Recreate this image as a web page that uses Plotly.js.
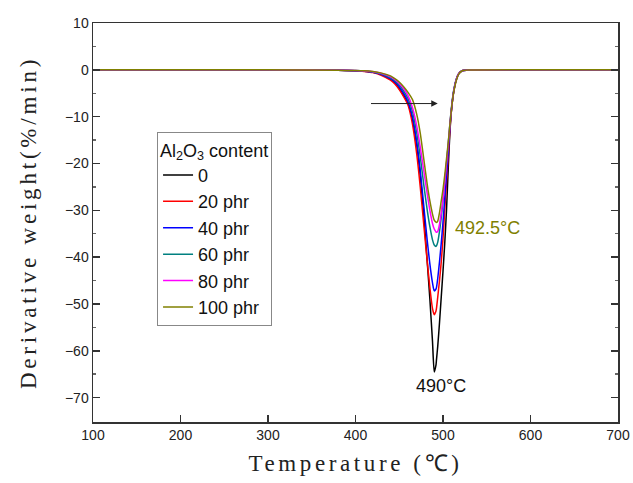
<!DOCTYPE html>
<html>
<head>
<meta charset="utf-8">
<script src="https://cdn.plot.ly/plotly-3.0.1.min.js"></script>
<style>
html,body{margin:0;padding:0;background:#fff;}
#chart{width:633px;height:483px;}
/* wide, typewriter-like spacing for the axis titles */
#chart .xtitle{letter-spacing:3.6px;}
#chart .ytitle{letter-spacing:3.8px;}
</style>
</head>
<body>
<div id="chart"></div>
<script>
// DTG curves of composites with different Al2O3 loadings
const temperature = [100,200,300,380,400,410,420,430,440,445,450,455,460,465,470,474,478,482,485,488,490,492,492.5,494,496,498,500,502,504,506,508,510,512,515,518,522,530,600,700];

const dtg0   = [0,0,0,-0.1,-0.2,-0.3,-0.5,-1.0,-2.0,-2.8,-4.0,-5.5,-7.2,-10.5,-16,-22.5,-31,-41,-49,-58,-64.5,-63,-62,-59,-54,-48.5,-43,-37,-30,-21,-13,-8,-5,-2.2,-0.8,-0.2,-0.05,0,0];
const dtg20  = [0,0,0,-0.1,-0.2,-0.35,-0.6,-1.2,-2.2,-3.0,-4.2,-5.7,-7.5,-11.5,-18,-25,-33,-41,-46.5,-51,-52.3,-51.5,-51,-48.5,-45,-41,-36,-30,-24,-18.5,-12.5,-8,-5,-2.2,-0.8,-0.2,-0.05,0,0];
const dtg40  = [0,0,0,-0.1,-0.2,-0.3,-0.5,-1.0,-1.9,-2.6,-3.6,-5.0,-6.8,-10,-15.5,-21.5,-29,-36.5,-41.5,-45.5,-47.2,-46.8,-46.5,-44.5,-41,-37,-32.5,-27.5,-22.5,-17.5,-12,-7.8,-4.8,-2.2,-0.8,-0.2,-0.05,0,0];
const dtg60  = [0,0,0,-0.1,-0.15,-0.25,-0.45,-0.9,-1.7,-2.3,-3.2,-4.5,-6.1,-8.8,-13.5,-18.5,-24.5,-30,-33.5,-36.3,-37.4,-37.7,-37.6,-36.8,-34.5,-31.5,-28,-24,-20,-15.8,-11.2,-7.5,-4.6,-2.1,-0.8,-0.2,-0.05,0,0];
const dtg80  = [0,0,0,-0.1,-0.15,-0.25,-0.4,-0.8,-1.5,-2.1,-2.9,-4.0,-5.5,-8,-12,-16.5,-21.5,-26.5,-30,-32.8,-34,-34.6,-34.7,-34.5,-33,-30.5,-27.5,-24,-20,-16,-11.5,-7.7,-4.8,-2.2,-0.8,-0.2,-0.05,0,0];
const dtg100 = [0,0,0,-0.1,-0.15,-0.2,-0.35,-0.7,-1.3,-1.9,-2.6,-3.6,-4.8,-6.3,-9.5,-13.5,-19,-24.5,-28,-30.8,-32.1,-32.55,-32.6,-32.3,-30.5,-28,-25.5,-22.5,-19,-15.5,-11.5,-7.8,-5,-2.4,-0.9,-0.2,-0.05,0,0];

const seriesNames  = ['0','20 phr','40 phr','60 phr','80 phr','100 phr'];
const seriesValues = [dtg0, dtg20, dtg40, dtg60, dtg80, dtg100];
const seriesColors = ['#000000','#ff0000','#0000ff','#008080','#ff00ff','#808000'];

// peak temperatures marked on the plot
const peakT0 = 490;
const peakT100 = 492.5;

// shift arrow endpoints (temperature, rate)
const arrowFrom = [416, -7.2];
const arrowTo   = [494, -7.2];

const traces = seriesValues.map((vals, i) => ({
  x: temperature,
  y: vals,
  type: 'scatter',
  mode: 'lines',
  name: seriesNames[i],
  line: {color: seriesColors[i], width: 1.5, shape: 'spline', smoothing: 0.6}
}));

const valAt = (vals, t) => vals[temperature.indexOf(t)];

const sans = 'Liberation Sans, Arial, sans-serif';
const tickFont = {family: sans, size: 14, color: '#222'};
const titleFont = {family: 'Liberation Serif, Times New Roman, serif', size: 23, color: '#222'};

const layout = {
  width: 633,
  height: 483,
  margin: {l: 93, r: 15, t: 23, b: 61},
  paper_bgcolor: '#fff',
  plot_bgcolor: '#fff',
  showlegend: true,
  legend: {
    x: 0.122, y: 0.726, xanchor: 'left', yanchor: 'top',
    bgcolor: '#fff', bordercolor: '#888', borderwidth: 1,
    font: {family: sans, size: 18, color: '#111'},
    title: {text: 'Al<sub>2</sub>O<sub>3</sub> content', font: {family: sans, size: 18, color: '#111'}},
    tracegroupgap: 0,
    itemwidth: 30
  },
  xaxis: {
    range: [100, 700],
    dtick: 100,
    ticks: 'inside', ticklen: 7, tickwidth: 1.5, tickcolor: '#333',
    showline: true, linecolor: '#333', linewidth: 1.5, mirror: true,
    showgrid: false, zeroline: false,
    tickfont: tickFont,
    title: {text: 'Temperature (℃)', font: titleFont, standoff: 12}
  },
  yaxis: {
    range: [-75.2, 10],
    tickvals: [10,0,-10,-20,-30,-40,-50,-60,-70],
    ticks: 'inside', ticklen: 7, tickwidth: 1.5, tickcolor: '#333',
    minor: {ticks: 'inside', ticklen: 3, dtick: 5, tickcolor: '#666'},
    showline: true, linecolor: '#333', linewidth: 1.5, mirror: 'ticks',
    showgrid: false, zeroline: false,
    tickfont: tickFont,
    title: {text: 'Derivative weight(%/min)', font: titleFont, standoff: 22}
  },
  annotations: [
    {
      x: arrowTo[0], y: arrowTo[1], ax: arrowFrom[0], ay: arrowFrom[1],
      xref: 'x', yref: 'y', axref: 'x', ayref: 'y',
      showarrow: true, arrowhead: 2, arrowsize: 1.3, arrowwidth: 1, arrowcolor: '#222', text: ''
    },
    {
      x: peakT0, y: valAt(dtg0, peakT0), xref: 'x', yref: 'y',
      text: peakT0 + '°C', showarrow: false, yanchor: 'top', yshift: -2, xshift: 7,
      font: {family: sans, size: 18, color: '#111'}
    },
    {
      x: peakT100, y: valAt(dtg100, peakT100), xref: 'x', yref: 'y',
      text: peakT100 + '°C', showarrow: false, xanchor: 'left', yanchor: 'middle', xshift: 17, yshift: -5,
      font: {family: sans, size: 18, color: '#808000'}
    }
  ]
};

Plotly.newPlot('chart', traces, layout, {displayModeBar: false, staticPlot: true});
</script>
</body>
</html>
